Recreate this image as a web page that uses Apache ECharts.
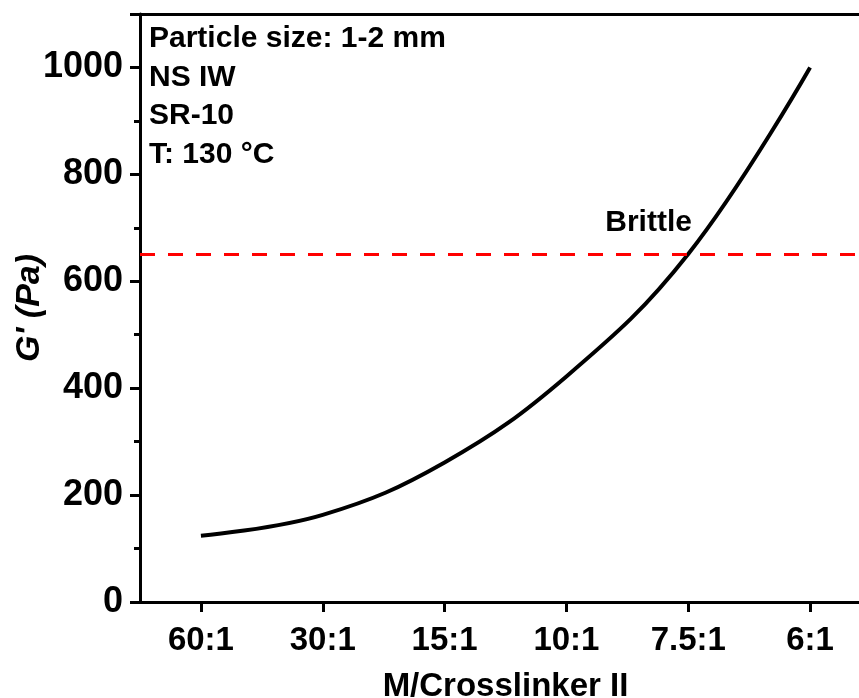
<!DOCTYPE html>
<html>
<head>
<meta charset="utf-8">
<script src="https://cdn.jsdelivr.net/npm/echarts@6/dist/echarts.min.js"></script>
<style>
  html, body { margin: 0; padding: 0; background: #ffffff; }
  #chart { width: 859px; height: 698px; }
</style>
</head>
<body>
<div id="chart"></div>
<script>
// Storage modulus G' versus monomer / crosslinker II ratio
const ratios = ['60:1', '30:1', '15:1', '10:1', '7.5:1', '6:1'];
const storageModulus = [124, 163, 261, 422, 651, 1000];
const brittleThreshold = [650];
const conditionLines = ['Particle size: 1-2 mm', 'NS IW', 'SR-10', 'T: 130 \u00B0C'];

const FONT = '"Liberation Sans", Arial, Helvetica, sans-serif';
const chart = echarts.init(document.getElementById('chart'), null, { renderer: 'canvas' });

const frameLine = { show: true, lineStyle: { color: '#000', width: 3 } };

const option = {
  backgroundColor: '#ffffff',
  animation: false,
  grid: {
    left: 140, top: 14, width: 731, height: 588,
    outerBoundsMode: 'none',
    containLabel: false,
    show: false
  },
  xAxis: [{
    type: 'category',
    data: ratios,
    boundaryGap: true,
    name: 'M/Crosslinker II',
    nameLocation: 'middle',
    nameGap: 68,
    nameMoveOverlap: false,
    nameTextStyle: { fontFamily: FONT, fontWeight: 'bold', fontSize: 33, color: '#000' },
    axisLine: frameLine,
    axisTick: { show: true, alignWithLabel: true, inside: false, length: 10, lineStyle: { color: '#000', width: 3 } },
    axisLabel: { fontFamily: FONT, fontWeight: 'bold', fontSize: 33, color: '#000', margin: 22 },
    splitLine: { show: false }
  }, {
    // top frame edge
    type: 'category',
    data: ratios,
    position: 'top',
    axisLine: frameLine,
    axisTick: { show: false },
    axisLabel: { show: false },
    splitLine: { show: false }
  }],
  yAxis: {
    type: 'value',
    min: 0, max: 1100, interval: 200,
    name: "G' (Pa)",
    nameLocation: 'middle',
    nameRotate: 90,
    nameGap: 93,
    nameMoveOverlap: false,
    nameTextStyle: { fontFamily: FONT, fontWeight: 'bold', fontStyle: 'italic', fontSize: 34, color: '#000' },
    axisLine: frameLine,
    axisTick: { show: true, inside: false, length: 10, lineStyle: { color: '#000', width: 3 } },
    minorTick: { show: true, splitNumber: 2, length: 6, lineStyle: { color: '#000', width: 3 } },
    axisLabel: {
      fontFamily: FONT, fontWeight: 'bold', fontSize: 36, color: '#000', margin: 17,
      showMaxLabel: false, formatter: v => String(v)
    },
    splitLine: { show: false }
  },
  series: [{
    type: 'line',
    xAxisIndex: 0,
    data: storageModulus,
    smooth: 0.4,
    symbol: 'none',
    lineStyle: { color: '#000', width: 4 },
    markLine: {
      silent: true,
      symbol: ['none', 'none'],
      label: { show: false },
      lineStyle: { color: '#ff0000', width: 3, type: [15, 13] },
      data: brittleThreshold.map(v => ({ yAxis: v }))
    }
  }]
};
chart.setOption(option);

// Place the annotations: condition block in the upper-left corner, "Brittle" beside the threshold crossing
const crossing = chart.convertToPixel({ xAxisIndex: 0, yAxisIndex: 0 }, [ratios[4], brittleThreshold[0]]);
chart.setOption({
  graphic: [
    ...conditionLines.map((t, i) => ({
      type: 'text',
      left: 149,
      top: 24 + i * 38.5,
      style: { text: t, fontFamily: FONT, fontWeight: 'bold', fontSize: 30, fill: '#000' }
    })),
    {
      type: 'text',
      x: crossing[0] - 83,
      y: crossing[1] - 47,
      style: { text: 'Brittle', fontFamily: FONT, fontWeight: 'bold', fontSize: 30, fill: '#000' }
    }
  ]
});
</script>
</body>
</html>
